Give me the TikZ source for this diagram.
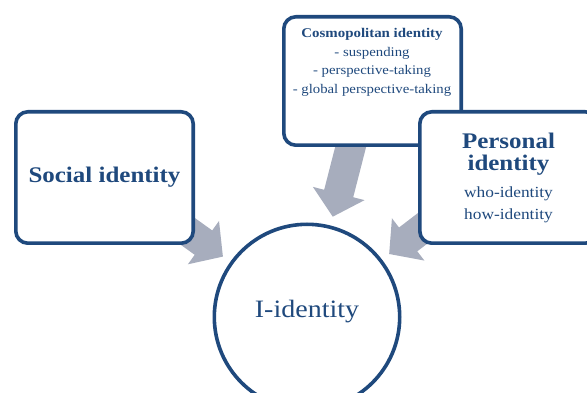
\documentclass[tikz,border=0pt]{standalone}
\usepackage{fontspec}
\setmainfont{Liberation Serif}[FakeStretch=1.12]
\usetikzlibrary{arrows.meta}
\definecolor{dblue}{RGB}{31,73,125}
\definecolor{agray}{RGB}{167,173,189}
\pgfdeclarelayer{bg}
\pgfsetlayers{bg,main}
\begin{document}
\begin{tikzpicture}[x=1pt,y=-1pt,
  box/.style={draw=dblue, line width=3.6pt, rounded corners=12pt, fill=white,
    minimum width=177.4pt, inner sep=0pt},
  txt/.style={text=dblue, inner sep=0pt, anchor=base},
  blockarrow/.style={draw=agray, line width=30pt,
    -{Triangle[length=24pt,width=52pt]}, shorten >=9pt}]
\useasboundingbox (0,0) rectangle (587,393);
% boxes
\node[box, minimum height=131.4pt] (social) at (104.5,177.5) {};
\node[box, minimum height=128.4pt] (cosmo) at (372.5,81) {};
\node[box, minimum height=131.4pt] (personal) at (508.5,177.5) {};
\node[draw=dblue, line width=3.6pt, circle, fill=white, minimum size=185.4pt, inner sep=0pt] (iid) at (307,317) {};
% texts
\node[txt, font=\fontsize{22.3}{26}\selectfont\bfseries] (socialtext) at (104.5,183) {Social identity};
\node[txt, font=\fontsize{13.3}{16}\selectfont\bfseries] (cosmo1) at (372,37.3) {Cosmopolitan identity};
\node[txt, font=\fontsize{13.2}{16}\selectfont] (cosmo2) at (372,56.5) {- suspending};
\node[txt, font=\fontsize{13.2}{16}\selectfont] (cosmo3) at (372,75) {- perspective-taking};
\node[txt, font=\fontsize{13.2}{16}\selectfont] (cosmo4) at (372,94) {- global perspective-taking};
\node[txt, font=\fontsize{22.3}{26}\selectfont\bfseries] (pers1) at (508.5,149) {Personal};
\node[txt, font=\fontsize{22.3}{26}\selectfont\bfseries] (pers2) at (508.5,171) {identity};
\node[txt, font=\fontsize{15.5}{18}\selectfont] (pers3) at (508.5,197.5) {who-identity};
\node[txt, font=\fontsize{15.5}{18}\selectfont] (pers4) at (508.5,219) {how-identity};
\node[txt, font=\fontsize{25}{30}\selectfont] (iidtext) at (307,317) {I-identity};
% arrows
\coordinate (sstart) at (165,215);
\coordinate (cstart) at (355,130);
\coordinate (pstart) at (440,215);
\begin{pgfonlayer}{bg}
\draw[blockarrow] (sstart) -- (iid);
\draw[blockarrow] (cstart) -- (iid);
\draw[blockarrow] (pstart) -- (iid);
\end{pgfonlayer}
\end{tikzpicture}
\end{document}
